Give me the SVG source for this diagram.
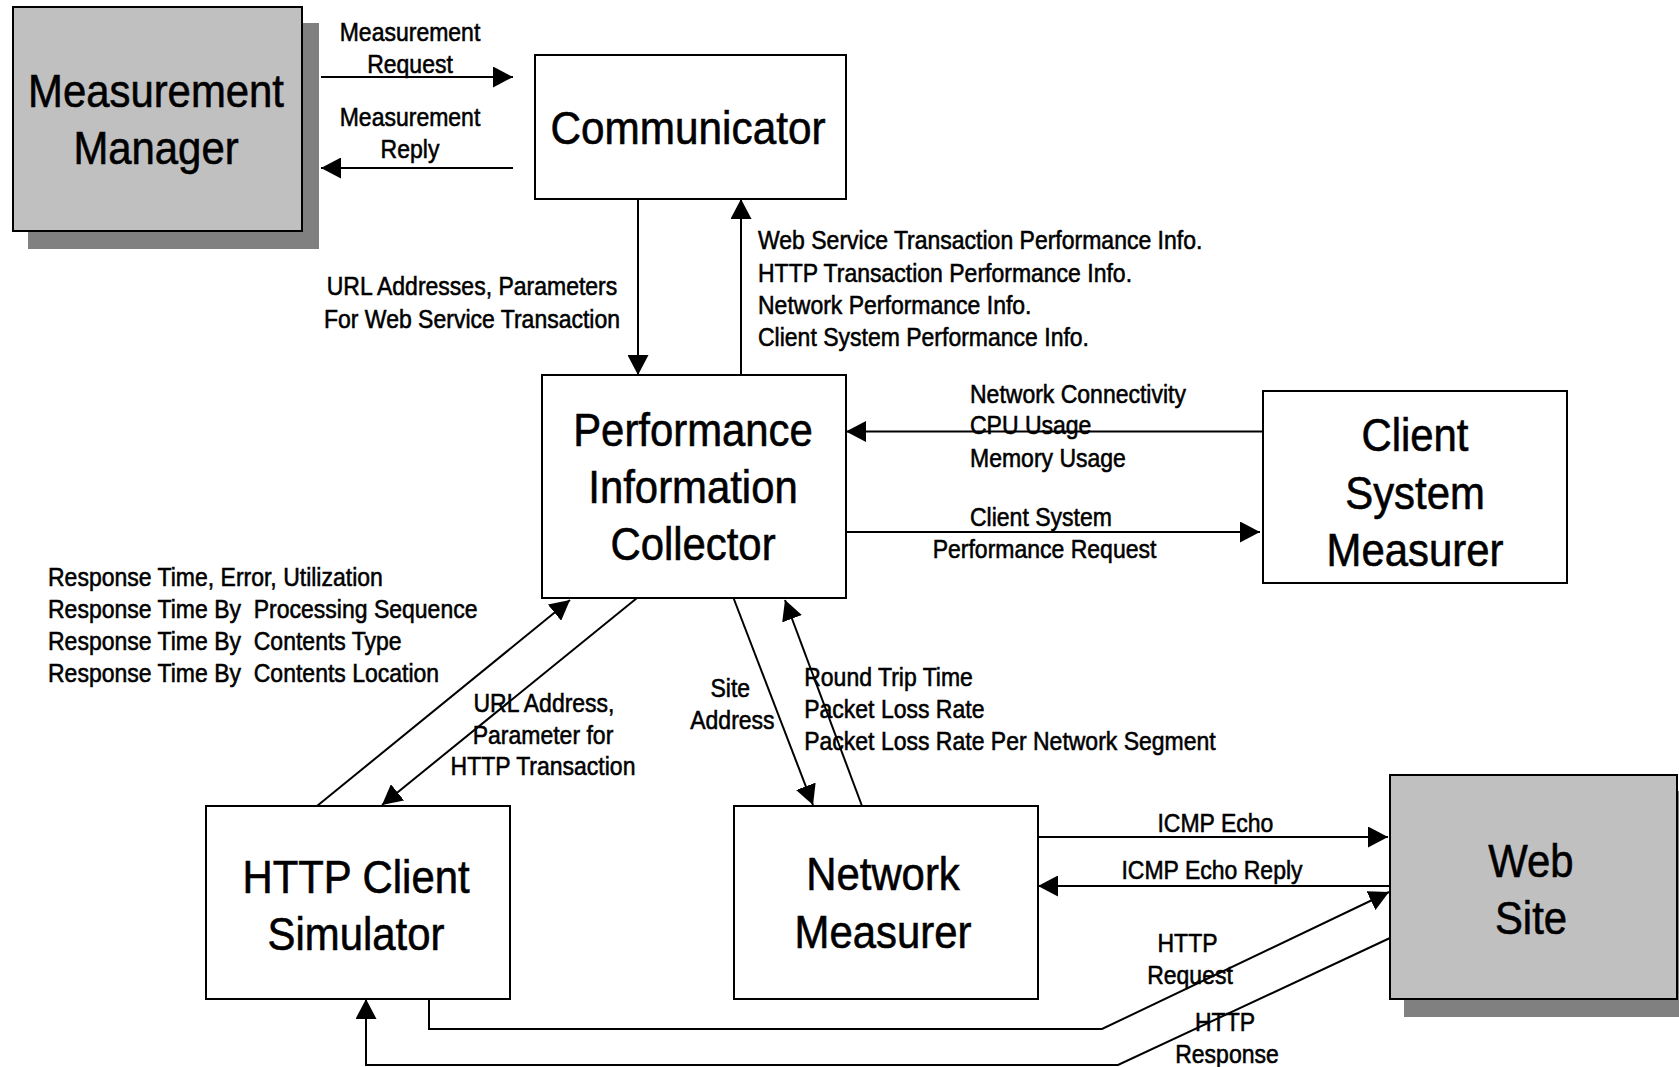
<svg xmlns="http://www.w3.org/2000/svg" width="1679" height="1067" viewBox="0 0 1679 1067">
<defs>
<style>
.box{fill:#ffffff;stroke:#000000;stroke-width:2}
.gbox{fill:#c0c0c0;stroke:#000000;stroke-width:2}
.shadow{fill:#808080;stroke:none}
.node{font-family:"Liberation Sans",Arial,sans-serif;font-size:46px;fill:#000000;stroke:#000000;stroke-width:0.6;text-anchor:middle}
.lbl{font-family:"Liberation Sans",Arial,sans-serif;font-size:25px;fill:#000000;stroke:#000000;stroke-width:0.55}
.mid{text-anchor:middle}
.conn{fill:none;stroke:#000000;stroke-width:2}
.arr{marker-end:url(#ah)}
</style>
<marker id="ah" viewBox="0 0 20 21" refX="20" refY="10.5" markerWidth="20" markerHeight="21" markerUnits="userSpaceOnUse" orient="auto">
<path d="M0,0 L20,10.5 L0,21 Z" fill="#000000"/>
</marker>
</defs>
<rect width="1679" height="1067" fill="#ffffff"/>

<g id="measurement-manager">
<rect class="shadow" x="28" y="23" width="291" height="226"/>
<rect class="gbox" x="13" y="7" width="289" height="224"/>
<text class="node" transform="matrix(.91 0 0 1 156 0)" y="107">Measurement</text>
<text class="node" transform="matrix(.91 0 0 1 156 0)" y="164">Manager</text>
</g>

<g id="communicator">
<rect class="box" x="535" y="55" width="311" height="144"/>
<text class="node" transform="matrix(.92 0 0 1 688 0)" y="144">Communicator</text>
</g>

<g id="performance-information-collector">
<rect class="box" x="542" y="375" width="304" height="223"/>
<text class="node" transform="matrix(.91 0 0 1 693 0)" y="446">Performance</text>
<text class="node" transform="matrix(.91 0 0 1 693 0)" y="503">Information</text>
<text class="node" transform="matrix(.91 0 0 1 693 0)" y="560">Collector</text>
</g>

<g id="client-system-measurer">
<rect class="box" x="1263" y="391" width="304" height="192"/>
<text class="node" transform="matrix(.91 0 0 1 1415 0)" y="451">Client</text>
<text class="node" transform="matrix(.91 0 0 1 1415 0)" y="509">System</text>
<text class="node" transform="matrix(.91 0 0 1 1415 0)" y="566">Measurer</text>
</g>

<g id="http-client-simulator">
<rect class="box" x="206" y="806" width="304" height="193"/>
<text class="node" transform="matrix(.91 0 0 1 356 0)" y="893">HTTP Client</text>
<text class="node" transform="matrix(.91 0 0 1 356 0)" y="950">Simulator</text>
</g>

<g id="network-measurer">
<rect class="box" x="734" y="806" width="304" height="193"/>
<text class="node" transform="matrix(.91 0 0 1 883 0)" y="890">Network</text>
<text class="node" transform="matrix(.91 0 0 1 883 0)" y="948">Measurer</text>
</g>

<g id="web-site">
<rect class="shadow" x="1404" y="791" width="300" height="226"/>
<rect class="gbox" x="1390" y="775" width="287" height="224"/>
<text class="node" transform="matrix(.91 0 0 1 1531 0)" y="877">Web</text>
<text class="node" transform="matrix(.91 0 0 1 1531 0)" y="934">Site</text>
</g>

<g id="connectors">
<line class="conn arr" x1="321" y1="77" x2="513" y2="77"/>
<line class="conn arr" x1="513" y1="168" x2="321" y2="168"/>
<line class="conn arr" x1="638" y1="199" x2="638" y2="375"/>
<line class="conn arr" x1="741" y1="375" x2="741" y2="199"/>
<line class="conn arr" x1="1263" y1="431.5" x2="846" y2="431.5"/>
<line class="conn arr" x1="846" y1="532" x2="1260" y2="532"/>
<line class="conn arr" x1="317" y1="806" x2="570" y2="600"/>
<line class="conn arr" x1="637" y1="598" x2="382" y2="805"/>
<line class="conn arr" x1="733.5" y1="598" x2="813" y2="805"/>
<line class="conn arr" x1="862" y1="806" x2="785" y2="600"/>
<line class="conn arr" x1="1038" y1="837" x2="1388" y2="837"/>
<line class="conn arr" x1="1390" y1="886" x2="1038" y2="886"/>
<polyline class="conn arr" points="429,999 429,1029 1102,1029 1389,892"/>
<polyline class="conn arr" points="1390,938 1118,1065 366,1065 366,999"/>
</g>

<g id="labels">
<text class="lbl mid" transform="matrix(.92 0 0 1 410 0)" y="40.6">Measurement</text>
<text class="lbl mid" transform="matrix(.92 0 0 1 410 0)" y="72.7">Request</text>
<text class="lbl mid" transform="matrix(.92 0 0 1 410 0)" y="126.3">Measurement</text>
<text class="lbl mid" transform="matrix(.92 0 0 1 410 0)" y="158.4">Reply</text>
<text class="lbl mid" transform="matrix(.92 0 0 1 472 0)" y="295.5">URL Addresses, Parameters</text>
<text class="lbl mid" transform="matrix(.92 0 0 1 472 0)" y="327.6">For Web Service Transaction</text>
<text class="lbl" transform="matrix(.92 0 0 1 758 0)" y="249.4">Web Service Transaction Performance Info.</text>
<text class="lbl" transform="matrix(.92 0 0 1 758 0)" y="281.6">HTTP Transaction Performance Info.</text>
<text class="lbl" transform="matrix(.92 0 0 1 758 0)" y="313.7">Network Performance Info.</text>
<text class="lbl" transform="matrix(.92 0 0 1 758 0)" y="345.8">Client System Performance Info.</text>
<text class="lbl" transform="matrix(.92 0 0 1 970 0)" y="402.6">Network Connectivity</text>
<text class="lbl" transform="matrix(.92 0 0 1 970 0)" y="433.6">CPU Usage</text>
<text class="lbl" transform="matrix(.92 0 0 1 970 0)" y="466.8">Memory Usage</text>
<text class="lbl" transform="matrix(.92 0 0 1 970 0)" y="525.7">Client System</text>
<text class="lbl" transform="matrix(.92 0 0 1 932.7 0)" y="557.8">Performance Request</text>
<text class="lbl" transform="matrix(.92 0 0 1 48 0)" y="585.7" xml:space="preserve">Response Time, Error, Utilization</text>
<text class="lbl" transform="matrix(.92 0 0 1 48 0)" y="617.8" xml:space="preserve">Response Time By  Processing Sequence</text>
<text class="lbl" transform="matrix(.92 0 0 1 48 0)" y="649.9" xml:space="preserve">Response Time By  Contents Type</text>
<text class="lbl" transform="matrix(.92 0 0 1 48 0)" y="682" xml:space="preserve">Response Time By  Contents Location</text>
<text class="lbl mid" transform="matrix(.92 0 0 1 544 0)" y="712">URL Address,</text>
<text class="lbl mid" transform="matrix(.92 0 0 1 543 0)" y="744.1">Parameter for</text>
<text class="lbl mid" transform="matrix(.92 0 0 1 543 0)" y="775.2">HTTP Transaction</text>
<text class="lbl mid" transform="matrix(.92 0 0 1 730.3 0)" y="697">Site</text>
<text class="lbl mid" transform="matrix(.92 0 0 1 732.4 0)" y="729.2">Address</text>
<text class="lbl" transform="matrix(.92 0 0 1 804.2 0)" y="686">Round Trip Time</text>
<text class="lbl" transform="matrix(.92 0 0 1 804.2 0)" y="717.8">Packet Loss Rate</text>
<text class="lbl" transform="matrix(.92 0 0 1 804.2 0)" y="749.8">Packet Loss Rate Per Network Segment</text>
<text class="lbl mid" transform="matrix(.92 0 0 1 1215.4 0)" y="832">ICMP Echo</text>
<text class="lbl mid" transform="matrix(.92 0 0 1 1212 0)" y="879">ICMP Echo Reply</text>
<text class="lbl mid" transform="matrix(.92 0 0 1 1187.5 0)" y="951.9">HTTP</text>
<text class="lbl mid" transform="matrix(.92 0 0 1 1190 0)" y="984">Request</text>
<text class="lbl mid" transform="matrix(.92 0 0 1 1225 0)" y="1031">HTTP</text>
<text class="lbl mid" transform="matrix(.92 0 0 1 1227 0)" y="1063.2">Response</text>
</g>
</svg>
